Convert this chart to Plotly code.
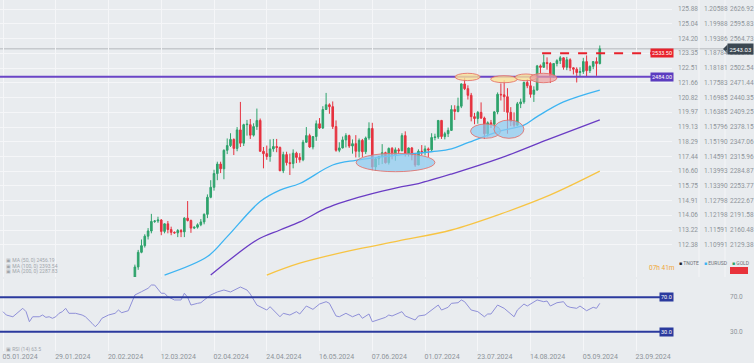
import plotly.graph_objects as go
from plotly.subplots import make_subplots

# ---------------- data ----------------
date_tick_index = [0, 16, 32, 48, 64, 80, 96, 112, 128, 144, 160, 176, 192]
date_tick_labels = ["05.01.2024", "29.01.2024", "20.02.2024", "12.03.2024", "02.04.2024",
                    "24.04.2024", "16.05.2024", "07.06.2024", "01.07.2024", "23.07.2024",
                    "14.08.2024", "05.09.2024", "23.09.2024"]

first_bar_index = 40
opens = [2044, 2083, 2114, 2128, 2148, 2159, 2179, 2180, 2182, 2158,
         2174, 2162, 2156, 2155, 2160, 2157, 2186, 2181, 2165, 2167,
         2172, 2178, 2194, 2230, 2251, 2280, 2300, 2290, 2329, 2339,
         2352, 2333, 2372, 2344, 2383, 2383, 2361, 2379, 2392, 2327,
         2322, 2316, 2332, 2337, 2335, 2286, 2320, 2303, 2301, 2323,
         2314, 2309, 2346, 2360, 2336, 2358, 2385, 2376, 2415, 2425,
         2421, 2379, 2329, 2334, 2351, 2360, 2338, 2343, 2327, 2350,
         2326, 2355, 2375, 2294, 2311, 2316, 2324, 2303, 2333, 2319,
         2330, 2328, 2360, 2322, 2334, 2319, 2298, 2327, 2326, 2332,
         2330, 2356, 2357, 2392, 2358, 2364, 2371, 2415, 2411, 2422,
         2469, 2459, 2445, 2400, 2396, 2409, 2397, 2364, 2387, 2384,
         2410, 2447, 2446, 2442, 2409, 2390, 2382, 2427, 2431, 2472,
         2465, 2447, 2456, 2507, 2504, 2514, 2512, 2484, 2512, 2518,
         2524, 2504, 2520, 2503, 2500, 2493, 2495, 2516, 2497, 2506,
         2516, 2512]
highs = [2088, 2119, 2141, 2152, 2165, 2195, 2182, 2189, 2184, 2175,
         2180, 2168, 2158, 2163, 2163, 2188, 2222, 2183, 2168, 2175,
         2184, 2196, 2236, 2266, 2288, 2305, 2305, 2331, 2354, 2365,
         2354, 2378, 2431, 2385, 2393, 2395, 2386, 2417, 2396, 2336,
         2339, 2352, 2353, 2353, 2337, 2326, 2326, 2322, 2331, 2326,
         2323, 2351, 2378, 2364, 2359, 2392, 2397, 2422, 2450, 2428,
         2432, 2392, 2346, 2358, 2365, 2362, 2352, 2361, 2354, 2353,
         2358, 2388, 2387, 2314, 2317, 2342, 2326, 2335, 2336, 2335,
         2334, 2365, 2369, 2335, 2336, 2322, 2331, 2340, 2339, 2335,
         2365, 2364, 2392, 2393, 2368, 2377, 2424, 2424, 2440, 2470,
         2483, 2466, 2450, 2408, 2412, 2430, 2400, 2390, 2393, 2412,
         2451, 2470, 2477, 2460, 2420, 2409, 2431, 2438, 2474, 2479,
         2477, 2464, 2509, 2510, 2531, 2525, 2515, 2512, 2521, 2528,
         2525, 2526, 2523, 2504, 2504, 2504, 2524, 2529, 2508, 2517,
         2525, 2550]
lows = [2039, 2077, 2112, 2124, 2141, 2154, 2176, 2176, 2150, 2154,
        2154, 2150, 2153, 2146, 2146, 2146, 2179, 2155, 2163, 2164,
        2169, 2173, 2186, 2228, 2244, 2266, 2281, 2268, 2321, 2336,
        2319, 2327, 2336, 2338, 2360, 2353, 2358, 2372, 2326, 2291,
        2309, 2305, 2326, 2325, 2285, 2281, 2297, 2277, 2291, 2302,
        2303, 2306, 2345, 2334, 2331, 2349, 2374, 2374, 2414, 2406,
        2374, 2326, 2325, 2333, 2335, 2334, 2322, 2314, 2314, 2315,
        2321, 2351, 2287, 2286, 2298, 2300, 2301, 2299, 2310, 2307,
        2321, 2327, 2316, 2316, 2308, 2294, 2298, 2319, 2318, 2315,
        2327, 2350, 2353, 2353, 2352, 2357, 2370, 2393, 2409, 2418,
        2456, 2436, 2390, 2384, 2385, 2395, 2353, 2358, 2376, 2378,
        2405, 2434, 2410, 2364, 2380, 2378, 2380, 2418, 2427, 2460,
        2440, 2431, 2455, 2492, 2503, 2499, 2471, 2482, 2506, 2511,
        2499, 2498, 2496, 2489, 2472, 2484, 2490, 2485, 2492, 2500,
        2486, 2510]
closes = [2083, 2114, 2128, 2148, 2159, 2179, 2180, 2182, 2158, 2174,
          2162, 2156, 2155, 2160, 2157, 2186, 2181, 2165, 2167, 2172,
          2178, 2194, 2230, 2251, 2280, 2300, 2290, 2329, 2339, 2352,
          2333, 2372, 2344, 2383, 2384, 2361, 2379, 2392, 2327, 2322,
          2316, 2332, 2337, 2335, 2286, 2320, 2303, 2301, 2323, 2314,
          2309, 2346, 2360, 2336, 2358, 2385, 2376, 2415, 2425, 2421,
          2379, 2329, 2334, 2351, 2360, 2338, 2343, 2327, 2350, 2326,
          2355, 2375, 2294, 2311, 2316, 2324, 2303, 2333, 2319, 2330,
          2328, 2360, 2322, 2334, 2319, 2298, 2327, 2326, 2332, 2330,
          2356, 2357, 2392, 2358, 2364, 2371, 2415, 2411, 2422, 2469,
          2459, 2445, 2400, 2396, 2409, 2397, 2364, 2387, 2384, 2410,
          2447, 2446, 2442, 2409, 2390, 2382, 2427, 2431, 2472, 2465,
          2447, 2456, 2507, 2504, 2514, 2512, 2484, 2512, 2518, 2524,
          2504, 2520, 2503, 2500, 2493, 2495, 2516, 2497, 2506, 2516,
          2512, 2543]

ma50_index = [49, 62, 68, 78, 84, 90, 100, 107, 120, 130, 136, 141, 150, 158, 162, 170, 181]
ma50_value = [2066, 2105, 2147, 2221, 2245, 2259, 2298, 2308, 2319, 2326, 2332, 2345, 2368, 2382, 2400, 2431, 2456]
ma100_index = [63, 68, 77, 84, 90, 98, 104, 110, 115, 120, 126, 136, 151, 165, 181]
ma100_value = [2066, 2094, 2140, 2161, 2178, 2207, 2222, 2234, 2243, 2251, 2259, 2279, 2313, 2351, 2393]
ma200_index = [80, 90, 105, 120, 136, 151, 166, 181]
ma200_value = [2066, 2091, 2117, 2138, 2161, 2195, 2235, 2285]

rsi_index = [0, 1, 3, 5, 6, 7, 8, 9, 11, 12, 13, 14, 15, 16, 17, 18, 19, 20, 22, 24,
             25, 27, 28, 29, 30, 32, 34, 35, 36, 38, 39, 40, 42, 44, 45, 46, 48, 49, 50, 52,
             54, 55, 56, 57, 59, 60, 61, 63, 65, 67, 69, 72, 74, 75, 77, 80, 81, 84, 85, 87,
             89, 90, 92, 94, 96, 98, 99, 101, 102, 104, 106, 108, 109, 111, 112, 114, 116, 117, 118, 121,
             122, 125, 126, 128, 130, 132, 133, 135, 136, 138, 139, 140, 142, 144, 146, 147, 148, 150, 152, 155,
             156, 158, 159, 162, 164, 165, 166, 168, 170, 171, 172, 174, 175, 177, 179, 180, 181]
rsi_value = [53.3, 49.4, 47.4, 53.3, 57.2, 53.3, 41.6, 47.4, 47.4, 49.4, 46.7, 47.4, 45.6, 47.4, 51.4, 53.3, 57.2, 51.4, 51.4, 49.4,
             47.4, 39.8, 35.8, 39.8, 45.6, 49.4, 51.4, 55.2, 52.1, 54.4, 63.0, 72.7, 76.5, 80.5, 84.3, 84.3, 74.7, 74.7, 70.7, 66.9,
             66.9, 74.7, 70.0, 61.0, 63.0, 63.7, 66.9, 72.7, 76.2, 78.5, 76.2, 82.0, 78.5, 73.8, 61.0, 55.2, 59.1, 47.4, 51.4, 49.4,
             53.3, 50.6, 59.9, 56.0, 62.2, 64.9, 63.0, 48.3, 47.4, 51.4, 47.4, 50.6, 45.6, 50.6, 41.6, 44.4, 46.7, 49.4, 48.3, 53.3,
             48.3, 43.6, 48.3, 49.4, 55.2, 61.0, 55.2, 58.4, 63.0, 63.7, 66.9, 64.9, 55.2, 53.3, 47.4, 50.6, 50.6, 61.0, 57.2, 47.4,
             55.2, 62.2, 59.9, 66.9, 64.9, 65.7, 59.9, 63.7, 64.9, 59.9, 58.4, 57.2, 59.9, 54.4, 58.4, 57.2, 63.0]

gold_ticks = [2626.92, 2595.83, 2564.73, 2533.63, 2502.54, 2471.44, 2440.35, 2409.25, 2378.15,
              2347.06, 2315.96, 2284.87, 2253.77, 2222.67, 2191.58, 2160.48, 2129.38]
index_ticks = ["125.88", "125.04", "124.20", "123.35", "122.51", "121.66", "120.82", "119.97", "119.13",
               "118.29", "117.44", "116.60", "115.75", "114.91", "114.06", "113.22", "112.38"]
eurusd_ticks = ["1.20588", "1.19988", "1.19386", "1.18784", "1.18181", "1.17583", "1.16985", "1.16385", "1.15796",
                "1.15190", "1.14591", "1.13993", "1.13390", "1.12798", "1.12198", "1.11591", "1.10991"]

support_level = 2484.00
resistance_level = 2533.50
resistance_start_index = 163.5
last_price = 2543.03
rsi_upper = 70.0
rsi_lower = 30.0
rsi_last = 63.5

# marked zones (bar index from/to, price low/high, kind)
zone_x0 = [137.1, 147.9, 155.3, 159.8, 107.1, 141.8, 148.9]
zone_x1 = [144.7, 156.0, 161.9, 168.0, 131.0, 150.9, 158.0]
zone_lo = [2476.0, 2471.5, 2475.8, 2471.5, 2283.9, 2354.3, 2354.3]
zone_hi = [2491.4, 2486.3, 2489.9, 2491.4, 2322.7, 2384.5, 2392.9]
zone_kind = ["top", "top", "top", "pink", "bottom", "bottom", "bottom"]

ma_legend = ["MA (50, 0) 2456.19", "MA (100, 0) 2393.54", "MA (200, 0) 2287.83"]

# ---------------- layout constants ----------------
W, H = 754, 363
PLOT_W, PLOT_H = 672, 351
MAIN_BOTTOM = 277
RSI_TOP = 279
BG = "#e9ecef"
GRID = "#f5f6f8"
TXT = "#8e949a"
FONT = "Roboto"


def px(p):
    return p / PLOT_W


def py(p):
    return 1 - p / PLOT_H


x_range = [-0.91, 202.9]
y_main_range = [2061.9, 2645.9]
y_rsi_range = [7.56, 91.3]

bar_x = list(range(first_bar_index, first_bar_index + len(closes)))

fig = make_subplots(rows=2, cols=1)

fig.add_trace(go.Candlestick(
    x=bar_x, open=opens, high=highs, low=lows, close=closes,
    increasing=dict(line=dict(color="#2ea36c", width=1), fillcolor="#2ea36c"),
    decreasing=dict(line=dict(color="#e6323f", width=1), fillcolor="#e6323f"),
    whiskerwidth=0, showlegend=False, hoverinfo="skip"), row=1, col=1)

fig.add_trace(go.Scatter(x=ma200_index, y=ma200_value, mode="lines", hoverinfo="skip",
                         line=dict(color="#f7c443", width=1.3, shape="spline"), showlegend=False), row=1, col=1)
fig.add_trace(go.Scatter(x=ma100_index, y=ma100_value, mode="lines", hoverinfo="skip",
                         line=dict(color="#6a3cc4", width=1.3, shape="spline"), showlegend=False), row=1, col=1)
fig.add_trace(go.Scatter(x=ma50_index, y=ma50_value, mode="lines", hoverinfo="skip",
                         line=dict(color="#3db4f2", width=1.3, shape="spline"), showlegend=False), row=1, col=1)

fig.add_trace(go.Scatter(x=rsi_index, y=rsi_value, mode="lines", hoverinfo="skip",
                         line=dict(color="#8f90d8", width=1), showlegend=False), row=2, col=1)

shapes = []
# price level lines
shapes.append(dict(type="line", xref="paper", yref="y", x0=0, x1=px(727), y0=last_price, y1=last_price,
                   line=dict(color="#c6c9cd", width=1.5), layer="below"))
shapes.append(dict(type="line", xref="paper", yref="y", x0=0, x1=px(652), y0=support_level, y1=support_level,
                   line=dict(color="#6a45c6", width=2)))
shapes.append(dict(type="line", xref="x", yref="y", x0=resistance_start_index, x1=x_range[1] - 6.1,
                   y0=resistance_level, y1=resistance_level,
                   line=dict(color="#e8222c", width=2, dash="dash")))
# RSI levels
for lvl in (rsi_upper, rsi_lower):
    shapes.append(dict(type="line", xref="paper", yref="y2", x0=0, x1=px(660), y0=lvl, y1=lvl,
                       line=dict(color="#2b3a9e", width=2)))
# zones
for x0, x1, lo, hi, kind in zip(zone_x0, zone_x1, zone_lo, zone_hi, zone_kind):
    if kind == "top":
        fill = "rgba(250,226,150,0.8)"
    elif kind == "pink":
        fill = "rgba(236,160,160,0.7)"
    else:
        fill = "rgba(140,203,240,0.72)"
    shapes.append(dict(type="circle", xref="x", yref="y", x0=x0, x1=x1, y0=lo, y1=hi,
                       fillcolor=fill, line=dict(color="rgba(228,110,105,0.85)", width=1), layer="above"))
# right label-column separators
for sx in (699, 725):
    shapes.append(dict(type="line", xref="paper", yref="paper", x0=px(sx), x1=px(sx), y0=py(MAIN_BOTTOM), y1=1,
                       line=dict(color="#f4f5f7", width=1)))
# red button under GOLD
shapes.append(dict(type="rect", xref="paper", yref="paper", x0=px(730), x1=px(748), y0=py(274), y1=py(267),
                   fillcolor="#e8333b", line=dict(width=0)))
# price tag pointer
shapes.append(dict(type="path", xref="paper", yref="paper",
                   path=f"M {px(723)} {py(49)} L {px(727.5)} {py(44.5)} L {px(727.5)} {py(53.5)} Z",
                   fillcolor="#3b4752", line=dict(width=0)))


def note(**kw):
    kw.setdefault("showarrow", False)
    kw.setdefault("xanchor", "left")
    kw.setdefault("yanchor", "middle")
    return kw


ann = []
for v, a, b in zip(gold_ticks, index_ticks, eurusd_ticks):
    ann.append(note(xref="paper", yref="y", x=px(676), y=v, text=a, font=dict(size=6.5, color=TXT, family=FONT)))
    ann.append(note(xref="paper", yref="y", x=px(702), y=v, text=b, font=dict(size=6.5, color=TXT, family=FONT)))
    ann.append(note(xref="paper", yref="y", x=px(728), y=v, text=f"{v:.2f}",
                    font=dict(size=6.5, color=TXT, family=FONT)))

ann.append(note(xref="paper", yref="y", x=px(662), y=resistance_level, text=f"{resistance_level:.2f}",
                xanchor="center", bgcolor="#e8222c", borderpad=1,
                font=dict(size=5.5, color="white", family=FONT)))
ann.append(note(xref="paper", yref="y", x=px(662), y=support_level, text=f"{support_level:.2f}",
                xanchor="center", bgcolor="#5b3cc0", borderpad=1,
                font=dict(size=5.5, color="white", family=FONT)))
ann.append(note(xref="paper", yref="y", x=px(740), y=last_price, text=f"{last_price:.2f}",
                xanchor="center", bgcolor="#3b4752", borderpad=1.5,
                font=dict(size=6, color="white", family=FONT)))
for lvl in (rsi_upper, rsi_lower):
    ann.append(note(xref="paper", yref="y2", x=px(666), y=lvl, text=f"{lvl:.1f}", xanchor="center",
                    bgcolor="#2b3a9e", borderpad=1, font=dict(size=5.5, color="white", family=FONT)))
    ann.append(note(xref="paper", yref="y2", x=px(728), y=lvl, text=f"{lvl:.1f}",
                    font=dict(size=6.5, color=TXT, family=FONT)))

for i, t in enumerate(ma_legend):
    ann.append(note(xref="paper", yref="paper", x=px(4), y=py(260.5 + 5.5 * i), text="▣ " + t,
                    font=dict(size=5, color="#a0a5ab", family=FONT)))
ann.append(note(xref="paper", yref="paper", x=px(4), y=py(349), text=f"▣ RSI (14) {rsi_last}",
                font=dict(size=5, color="#a0a5ab", family=FONT)))
ann.append(note(xref="paper", yref="paper", x=px(647), y=py(268), text="07h 41m",
                font=dict(size=6.5, color="#f0a635", family=FONT)))
for xpos, col, name in ((677, "#222222", "TNOTE"), (702, "#3db4f2", "EURUSD"), (730, "#2ea36c", "GOLD")):
    ann.append(note(xref="paper", yref="paper", x=px(xpos), y=py(263),
                    text=f"<span style='color:{col}'>■</span> {name}",
                    font=dict(size=5, color="#6d7278", family=FONT)))

axis_common = dict(range=x_range, tickmode="array", tickvals=date_tick_index, showgrid=True,
                   gridcolor=GRID, gridwidth=1, zeroline=False, showline=False, ticks="")

fig.update_layout(
    width=W, height=H, margin=dict(l=0, r=W - PLOT_W, t=0, b=H - PLOT_H),
    paper_bgcolor=BG, plot_bgcolor=BG, showlegend=False, hovermode=False,
    font=dict(family=FONT, size=7, color=TXT),
    xaxis=dict(**axis_common, showticklabels=False, rangeslider=dict(visible=False), anchor="y"),
    xaxis2=dict(**axis_common, ticktext=date_tick_labels, showticklabels=True, ticklabelshift=17,
                tickfont=dict(size=7, color=TXT, family=FONT), anchor="y2"),
    yaxis=dict(domain=[py(MAIN_BOTTOM), 1], range=y_main_range, tickmode="array", tickvals=gold_ticks,
               showticklabels=False, showgrid=True, gridcolor=GRID, gridwidth=1, zeroline=False, ticks=""),
    yaxis2=dict(domain=[0, py(RSI_TOP)], range=y_rsi_range, showgrid=False, showticklabels=False,
                zeroline=False, ticks=""),
    shapes=shapes, annotations=ann,
)

fig.write_html("out.html", config={"displayModeBar": False, "staticPlot": True},
               post_script="document.body.style.margin='0px';document.body.style.padding='0px';"
                           "document.body.style.background='" + BG + "';")
